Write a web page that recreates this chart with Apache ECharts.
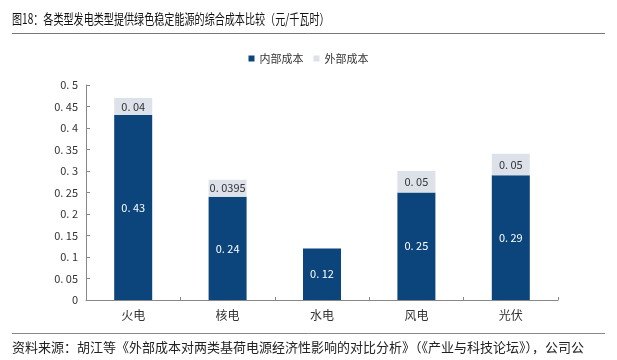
<!DOCTYPE html>
<html><head><meta charset="utf-8">
<script src="https://cdn.jsdelivr.net/npm/echarts@6/dist/echarts.min.js"></script>
<style>html,body{margin:0;padding:0;background:#fff}#c{width:617px;height:360px}</style>
</head><body><div id="c"></div>
<script>
var categories = ['火电', '核电', '水电', '风电', '光伏'];
var innerCost = [0.43, 0.24, 0.12, 0.25, 0.29];
var outerCost = [0.04, 0.0395, null, 0.05, 0.05];
var seriesNames = ['内部成本', '外部成本'];
var titleText = '图18：各类型发电类型提供绿色稳定能源的综合成本比较（元/千瓦时）';
var sourceText = '资料来源：胡江等《外部成本对两类基荷电源经济性影响的对比分析》（《产业与科技论坛》），公司公';

function fmt(v) { return String(+(+v).toFixed(4)).replace('.', '. '); }
var FONT = '"Noto Sans CJK SC", "Noto Sans", sans-serif';
var chart = echarts.init(document.getElementById('c'));
chart.setOption({
  animation: false,
  textStyle: { fontFamily: FONT },
  legend: {
    data: seriesNames, top: 48, left: 'center', icon: 'rect',
    itemWidth: 6, itemHeight: 6, itemGap: 10,
    textStyle: { fontSize: 11, color: '#333', fontFamily: FONT }
  },
  grid: { left: 86, right: 59, top: 85, bottom: 60 },
  xAxis: {
    type: 'category', data: categories,
    axisLine: { lineStyle: { color: '#888', width: 1 } },
    axisTick: { show: true, inside: true, length: 3, lineStyle: { color: '#888' } },
    axisLabel: { fontSize: 12, color: '#333', margin: 9 }
  },
  yAxis: {
    type: 'value', min: 0, max: 0.5, interval: 0.05,
    splitLine: { show: false },
    axisLine: { show: true, lineStyle: { color: '#888', width: 1 } },
    axisTick: { show: true, inside: true, length: 4, lineStyle: { color: '#888' } },
    axisLabel: { fontSize: 11, color: '#333', margin: 8, formatter: function (v) { return fmt(v); } }
  },
  series: [
    {
      name: seriesNames[0], type: 'bar', stack: 'c', data: innerCost, barWidth: 38,
      itemStyle: { color: '#0C457C' },
      label: { show: true, position: 'inside', color: '#fff', fontSize: 11, formatter: function (p) { return fmt(p.value); } }
    },
    {
      name: seriesNames[1], type: 'bar', stack: 'c', data: outerCost, barWidth: 38,
      itemStyle: { color: '#DCE1EA' },
      label: { show: true, position: 'inside', color: '#333', fontSize: 11, formatter: function (p) { return p.value == null ? '' : fmt(p.value); } }
    }
  ],
  graphic: [
    { type: 'text', left: 12, top: 12, scaleX: 0.72, style: { text: titleText, fontSize: 14, fill: '#111', fontFamily: FONT } },
    { type: 'line', shape: { x1: 12, y1: 33.5, x2: 605, y2: 33.5 }, style: { stroke: '#777', lineWidth: 1 } },
    { type: 'line', shape: { x1: 12, y1: 333.5, x2: 605, y2: 333.5 }, style: { stroke: '#888', lineWidth: 1 } },
    { type: 'text', left: 12, top: 341, style: { text: sourceText, fontSize: 13, fill: '#222', fontFamily: FONT } }
  ]
});
</script></body></html>
